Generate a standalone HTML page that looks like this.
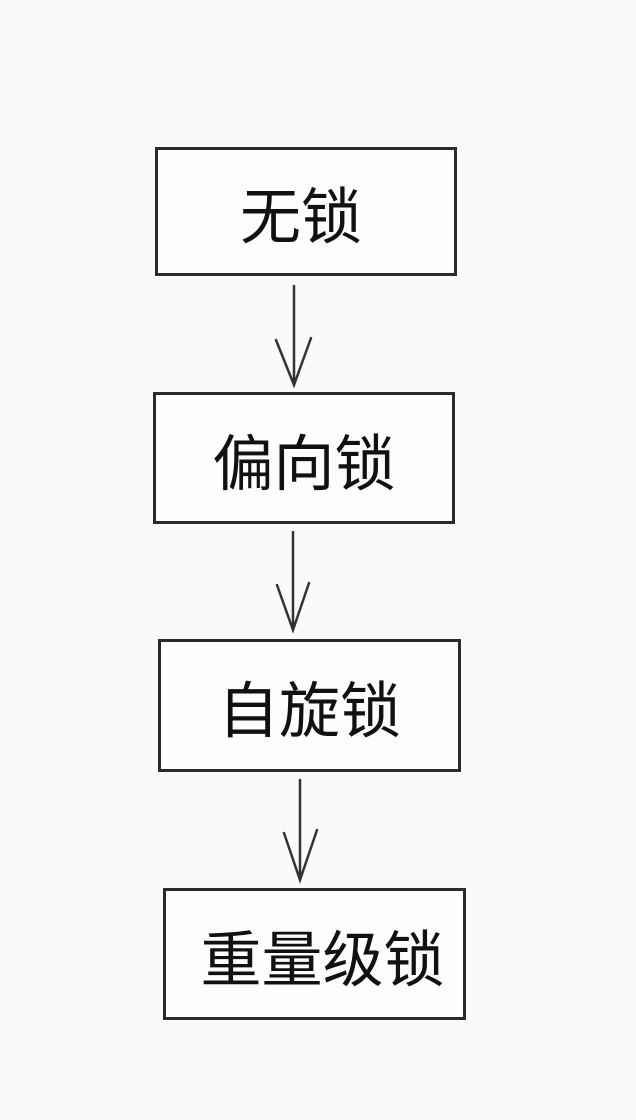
<!DOCTYPE html>
<html><head><meta charset="utf-8"><style>
html,body{margin:0;padding:0;background:#fafafa;}
body{width:636px;height:1120px;position:relative;overflow:hidden;font-family:"Liberation Sans","Noto Sans CJK SC",sans-serif;}
.b{position:absolute;border:3px solid #2a2a2a;box-sizing:border-box;display:flex;align-items:center;justify-content:center;font-size:61px;color:#111;font-weight:400;background:#fdfdfd;}
svg{position:absolute;left:0;top:0;}
</style></head><body>
<div class="b" style="left:155px;top:147px;width:302px;height:129px;padding-right:10px;">无锁</div>
<div class="b" style="left:153px;top:392px;width:302px;height:132px;">偏向锁</div>
<div class="b" style="left:158px;top:639px;width:303px;height:133px;">自旋锁</div>
<div class="b" style="left:163px;top:888px;width:303px;height:132px;padding-left:16px;">重量级锁</div>
<svg width="636" height="1120" fill="none" stroke="#333" stroke-width="2.5" stroke-linecap="round">
<path d="M294 286 L294 385 M276 340 L294 385 L311 338"/>
<path d="M293 532 L293 630 M277 585 L293 630 L309 583"/>
<path d="M300 780 L300 880 M284 833 L300 880 L317 830"/>
</svg>
</body></html>
